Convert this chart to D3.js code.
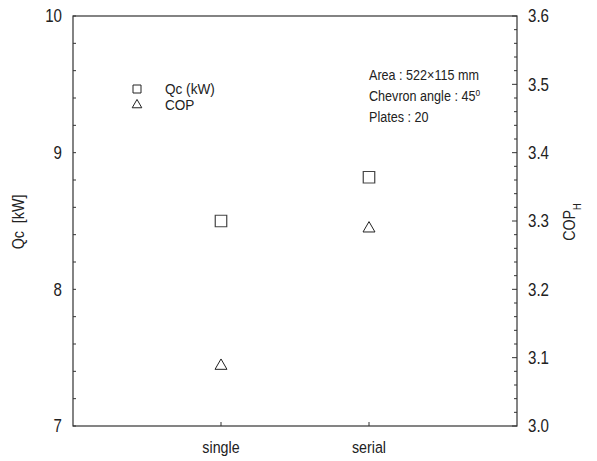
<!DOCTYPE html>
<html>
<head>
<meta charset="utf-8">
<script src="https://cdn.jsdelivr.net/npm/d3@7"></script>
<style>
  body { margin: 0; background: #fff; }
  svg text { font-family: "Liberation Sans", Arial, sans-serif; fill: #222; white-space: pre; }
</style>
</head>
<body>
<svg id="chart" width="597" height="461"></svg>
<script>
// data
const categories = ["single", "serial"];
const qcValues = [8.50, 8.82];     // Qc (kW), left axis
const copValues = [3.088, 3.289];  // COP_H, right axis
const leftTicks = [7, 8, 9, 10];
const rightTicks = [3.0, 3.1, 3.2, 3.3, 3.4, 3.5, 3.6];
const noteLines = ["Area : 522\u00d7115 mm", "Chevron angle : 45", "Plates : 20"];

const svg = d3.select("#chart");
const pL = 73, pR = 517, pT = 16, pB = 426;
const SQ = 0.84; // squeeze to look like a narrow font

const x = d3.scalePoint().domain(categories).range([pL, pR]).padding(1);
const yL = d3.scaleLinear().domain([7, 10]).range([pB, pT]);
const yR = d3.scaleLinear().domain([3.0, 3.6]).range([pB, pT]);

// text helper: narrow glyphs by scaling horizontally
function label(tx, ty, str, size, anchor, rot, sq) {
  const g = svg.append("g")
    .attr("transform", `translate(${tx},${ty}) rotate(${rot || 0}) scale(${sq || SQ},1)`);
  return g.append("text")
    .attr("text-anchor", anchor || "start")
    .style("font-size", size + "px")
    .text(str);
}

// frame
const ax = "#333";
svg.append("rect")
  .attr("x", pL).attr("y", pT)
  .attr("width", pR - pL).attr("height", pB - pT)
  .attr("fill", "none").attr("stroke", ax).attr("stroke-width", 1.2);

// left ticks (inward), minor every 0.2
d3.range(0, 16).forEach(function(i) {
  const v = 7 + i * 0.2;
  svg.append("line")
    .attr("x1", pL).attr("x2", pL + 3)
    .attr("y1", yL(v)).attr("y2", yL(v))
    .attr("stroke", ax);
});
leftTicks.forEach(function(d) {
  label(pL - 11, yL(d), d, 18, "end").attr("dy", "0.36em");
});

// right ticks (inward), minor every 0.02
d3.range(0, 31).forEach(function(i) {
  const v = 3.0 + i * 0.02;
  const major = i % 5 === 0;
  svg.append("line")
    .attr("x1", pR).attr("x2", pR - (major ? 5 : 3))
    .attr("y1", yR(v)).attr("y2", yR(v))
    .attr("stroke", ax);
});
rightTicks.forEach(function(d) {
  label(pR + 11, yR(d), d.toFixed(1), 18).attr("dy", "0.36em");
});

// bottom category ticks
svg.selectAll(".bt").data(categories).enter().append("line")
  .attr("x1", d => x(d)).attr("x2", d => x(d))
  .attr("y1", pB).attr("y2", pB - 4)
  .attr("stroke", ax);
categories.forEach(function(c) {
  label(x(c), 453, c, 17, "middle");
});

// axis titles
label(24, 222, "Qc  [kW]", 17, "middle", -90);
const rt = label(575, 222, "COP", 17, "middle", -90);
rt.append("tspan").attr("baseline-shift", "sub").style("font-size", "11px").text("H");

// markers
svg.selectAll(".sq").data(qcValues).enter().append("path")
  .attr("d", d3.symbol().type(d3.symbolSquare).size(132))
  .attr("transform", (d, i) => `translate(${x(categories[i])},${yL(d)})`)
  .attr("fill", "none").attr("stroke", "#444").attr("stroke-width", 1.2);
svg.selectAll(".tr").data(copValues).enter().append("path")
  .attr("d", d3.symbol().type(d3.symbolTriangle).size(62))
  .attr("transform", (d, i) => `translate(${x(categories[i])},${yR(d)})`)
  .attr("fill", "none").attr("stroke", "#222").attr("stroke-width", 1);

// legend
const legend = [
  { label: "Qc (kW)", type: d3.symbolSquare, size: 64, y: 89 },
  { label: "COP", type: d3.symbolTriangle, size: 40, y: 105 }
];
legend.forEach(function(l) {
  svg.append("path")
    .attr("d", d3.symbol().type(l.type).size(l.size))
    .attr("transform", `translate(137,${l.y})`)
    .attr("fill", "none").attr("stroke", "#222");
  label(165, l.y, l.label, 14, "start", 0, 0.97).attr("dy", "0.36em");
});

// note
noteLines.forEach(function(t, i) {
  const tx = label(369, 80 + i * 21, t, 15);
  if (i === 1) tx.append("tspan").attr("baseline-shift", "super").style("font-size", "10px").text("o");
});
</script>
</body>
</html>
